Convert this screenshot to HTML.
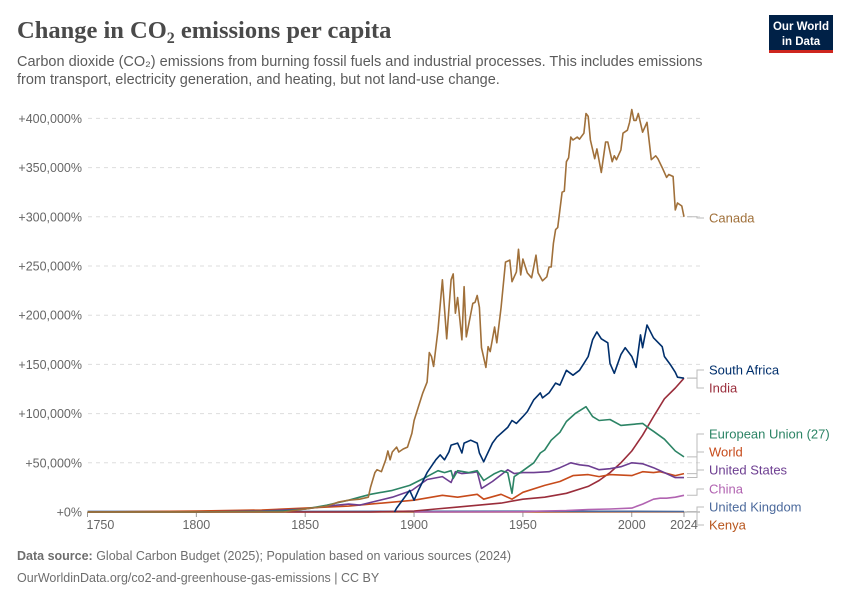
<!DOCTYPE html>
<html><head><meta charset="utf-8"><style>
body{margin:0;background:#fff;width:850px;height:600px;overflow:hidden;font-family:"Liberation Sans",sans-serif;}
svg text{font-family:"Liberation Sans",sans-serif;}
</style></head><body>
<svg id="chart" width="850" height="600">
<text x="17" y="38" font-family="Liberation Serif" font-size="24.5" font-weight="bold" fill="#4a4a4a" style="font-family:'Liberation Serif',serif">Change in CO<tspan font-size="16" dy="5">2</tspan><tspan dy="-5"> emissions per capita</tspan></text>
<text x="17" y="66" font-size="14.5" fill="#5b5b5b">Carbon dioxide (CO₂) emissions from burning fossil fuels and industrial processes. This includes emissions</text>
<text x="17" y="84" font-size="14.5" fill="#5b5b5b">from transport, electricity generation, and heating, but not land-use change.</text>
<g><rect x="769" y="15" width="64" height="37" fill="#002147"/><rect x="769" y="50" width="64" height="3" fill="#ce261e"/>
<text x="801" y="30" font-size="11.5" fill="#fff" text-anchor="middle" font-weight="bold">Our World</text><text x="801" y="45" font-size="11.5" fill="#fff" text-anchor="middle" font-weight="bold">in Data</text></g>
<g id="grid"></g><g id="lines"></g><g id="labels"></g>
<text x="17" y="560" font-size="12.5" fill="#6e6e6e"><tspan font-weight="bold">Data source:</tspan> Global Carbon Budget (2025); Population based on various sources (2024)</text>
<text x="17" y="582" font-size="12.5" fill="#6e6e6e">OurWorldinData.org/co2-and-greenhouse-gas-emissions | CC BY</text>
</svg>
<script>
const yTicks=[0,50000,100000,150000,200000,250000,300000,350000,400000];
const xTicks=[1750,1800,1850,1900,1950,2000,2024];
const canadaYears=[1750,1840,1850,1860,1865,1870,1875,1879,1880,1882,1883,1885,1887,1888,1889,1890,1892,1893,1895,1897,1899,1900,1902,1904,1906,1907,1908,1909,1911,1913,1915,1917,1918,1919,1920,1922,1923,1924,1927,1928,1929,1930,1931,1933,1934,1935,1937,1938,1940,1942,1944,1945,1947,1948,1949,1950,1952,1954,1956,1957,1959,1961,1962,1963,1964,1965,1966,1968,1969,1970,1971,1972,1973,1975,1976,1978,1979,1980,1981,1983,1984,1986,1988,1989,1991,1992,1993,1995,1996,1998,1999,2000,2001,2002,2003,2005,2007,2009,2011,2012,2014,2016,2017,2019,2020,2021,2023,2024];
const canadaValues=[0,0,3000,6000,10000,12000,13000,15000,25000,40000,43000,41000,53000,62000,53000,61000,66000,61000,64000,66000,80000,93000,107000,121000,132000,162000,158000,148000,185000,236000,176000,236000,242000,202000,218000,175000,229000,178000,212000,213000,220000,208000,167000,147000,168000,163000,188000,172000,208000,254000,256000,234000,244000,267000,241000,257000,243000,238000,261000,243000,235000,239000,249000,249000,273000,287000,289000,325000,326000,356000,360000,381000,378000,381000,379000,385000,405000,402000,378000,359000,369000,345000,376000,376000,356000,362000,358000,368000,385000,388000,396000,409000,398000,398000,405000,386000,396000,358000,362000,359000,350000,340000,343000,341000,307000,314000,311000,300000];
const saYears=[1891,1892,1898,1900,1902,1906,1910,1912,1914,1916,1917,1920,1921,1922,1923,1926,1929,1930,1932,1933,1936,1938,1943,1945,1947,1950,1952,1955,1958,1959,1962,1965,1967,1970,1973,1976,1978,1980,1982,1984,1986,1989,1990,1992,1995,1997,2000,2002,2004,2005,2007,2010,2014,2015,2018,2020,2021,2024];
const saValues=[0,4000,22000,12000,22000,40000,53000,58000,53000,61000,68000,70000,65000,60000,70000,73000,70000,60000,51000,56000,70000,76000,86000,93000,90000,97000,102000,114000,121000,116000,121000,131000,129000,144000,139000,144000,151000,158000,175000,183000,176000,172000,151000,141000,160000,167000,158000,147000,180000,167000,190000,177000,168000,158000,149000,142000,137000,136000];
const indiaYears=[1750,1880,1900,1910,1920,1930,1940,1950,1960,1970,1980,1985,1990,1995,2000,2005,2010,2015,2020,2024];
const indiaValues=[0,0,1000,3000,5000,7000,9000,13000,15000,19000,26000,32000,40000,50000,62000,78000,97000,115000,126000,136000];
const euYears=[1750,1800,1830,1840,1850,1860,1870,1875,1880,1890,1898,1906,1911,1914,1917,1918,1920,1925,1929,1932,1937,1940,1943,1945,1946,1950,1955,1958,1960,1963,1967,1970,1974,1979,1982,1985,1990,1995,2000,2005,2008,2010,2015,2020,2024];
const euValues=[0,0,500,1000,3000,7000,12000,15000,18000,22000,27000,36000,42000,40000,42000,34000,42000,40000,42000,32000,39000,42000,40000,19000,36000,42000,50000,60000,63000,73000,81000,92000,100000,107000,97000,93000,94000,88000,89000,90000,85000,82000,74000,62000,56000];
const worldYears=[1750,1800,1830,1850,1870,1880,1900,1913,1920,1929,1932,1940,1945,1950,1960,1967,1973,1980,1985,1990,2000,2005,2010,2013,2020,2024];
const worldValues=[0,1000,2000,4000,6000,8000,12000,17000,15000,18000,13000,18000,13000,20000,27000,31000,37000,38000,36000,38000,37000,41000,40000,41000,37000,39000];
const usYears=[1800,1830,1850,1860,1870,1875,1890,1899,1906,1913,1917,1919,1922,1927,1929,1931,1936,1943,1946,1950,1955,1962,1967,1972,1976,1980,1985,1990,1995,2000,2005,2010,2015,2020,2024];
const usValues=[0,1000,3000,6000,8000,7000,15000,22000,33000,36000,30000,41000,39000,40000,41000,24000,31000,43000,39000,40000,40000,41000,45000,50000,48000,47000,43000,44000,46000,50000,49000,45000,40000,35000,35000];
const chinaYears=[1900,1950,1960,1970,1980,1990,2000,2005,2010,2013,2016,2020,2024];
const chinaValues=[0,300,1000,1500,2500,3000,4000,8000,13000,14000,14000,15000,17000];
const ukYears=[1750,1850,1900,1950,2000,2024];
const ukValues=[600,600,700,800,700,500];
const kenyaYears=[1750,1900,1950,2000,2024];
const kenyaValues=[0,0,100,200,200];

const NS="http://www.w3.org/2000/svg";
const x=y=>87.5+(y-1750)*2.177;
const yS=v=>512-v*49.2/50000;
function mk(tag,attrs,parent){const e=document.createElementNS(NS,tag);for(const k in attrs)e.setAttribute(k,attrs[k]);parent.appendChild(e);return e;}
const grid=document.getElementById('grid'),lines=document.getElementById('lines'),labs=document.getElementById('labels');
yTicks.forEach(t=>{
  const l=mk('line',{x1:88,x2:700,y1:yS(t),y2:yS(t),stroke:t===0?'#999':'#ddd','stroke-dasharray':t===0?'none':'4,4'},grid);
  
  
  const tx=mk('text',{x:82,y:yS(t)+4.5,'text-anchor':'end','font-size':12.5,fill:'#666'},grid);
  tx.textContent=(t===0?'+0':'+'+t.toLocaleString('en-US'))+'%';
  
  
});
xTicks.forEach((t,i)=>{
  const tk=mk('line',{x1:x(t),x2:x(t),y1:512,y2:517,stroke:'#999'},grid);
  
  
  const tx=mk('text',{x:i===0?x(t)-1:x(t),y:529,'text-anchor':i===0?'start':'middle','font-size':12.5,fill:'#666'},grid);
  tx.textContent=t;
  
  
});
const series=[
 ['kenya','Kenya','#b8561e',kenyaYears,kenyaValues,525],
 ['united-kingdom','United Kingdom','#4c6a9c',ukYears,ukValues,507],
 ['china','China','#b163b1',chinaYears,chinaValues,489],
 ['india','India','#9a2d3b',indiaYears,indiaValues,388],
 ['world','World','#c74b1b',worldYears,worldValues,452],
 ['united-states','United States','#6d3e91',usYears,usValues,470],
 ['european-union','European Union (27)','#2c8465',euYears,euValues,434],
 ['south-africa','South Africa','#002f6c',saYears,saValues,370],
 ['canada','Canada','#a0703a',canadaYears,canadaValues,218]];
series.forEach(s=>{
  const [id,name,col,ys,vs,ly]=s;
  const pts=ys.map((yr,i)=>x(yr).toFixed(1)+','+yS(vs[i]).toFixed(1)).join(' ');
  const p=mk('polyline',{points:pts,fill:'none',stroke:col,'stroke-width':1.6,'stroke-linejoin':'round'},lines);
  
  
  const ey=yS(vs[vs.length-1]);
  const c=mk('polyline',{points:`687,${ey} 697,${ey} 697,${ly} 704,${ly}`,fill:'none',stroke:'#bbb','stroke-width':1},labs);
  
  
  const t=mk('text',{x:709,y:ly+4.5,'font-size':13,fill:col},labs);
  t.textContent=name;
  
  
});
</script>
</body></html>
